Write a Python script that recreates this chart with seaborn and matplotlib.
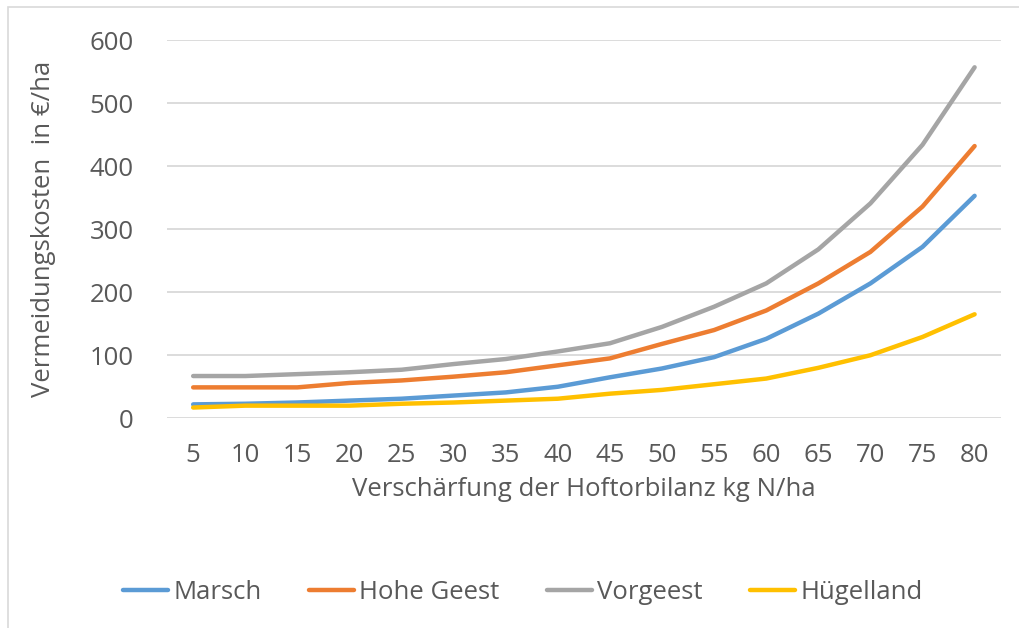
import pandas as pd
import matplotlib.pyplot as plt
import seaborn as sns
from matplotlib.patches import Rectangle

sns.set_theme(style="white")
plt.rcParams["font.family"] = ["Open Sans", "DejaVu Sans"]

# ---------------------------------------------------------
# DATA
# ---------------------------------------------------------

verschaerfung = [5, 10, 15, 20, 25, 30, 35, 40, 45, 50, 55, 60, 65, 70, 75, 80]

marsch = [22, 23, 25, 28, 31, 36, 41, 50, 65, 79, 97, 126, 166, 214, 272, 353]
hohe_geest = [49, 49, 49, 56, 60, 66, 73, 84, 95, 118, 140, 171, 214, 264, 336, 432]
vorgeest = [67, 67, 70, 73, 77, 86, 94, 106, 119, 145, 177, 214, 268, 341, 434, 557]
huegelland = [17, 20, 20, 20, 23, 25, 28, 31, 39, 45, 54, 63, 80, 100, 129, 165]

regionen = ["Marsch", "Hohe Geest", "Vorgeest", "Hügelland"]
farben = ["#5B9BD5", "#ED7D31", "#A5A5A5", "#FFC000"]

df = pd.DataFrame({
    "x": verschaerfung * 4,
    "kosten": marsch + hohe_geest + vorgeest + huegelland,
    "region": sum([[r] * len(verschaerfung) for r in regionen], []),
})

# ---------------------------------------------------------
# PLOT
# ---------------------------------------------------------

text_col = "#595959"
fs = 18.5

fig = plt.figure(figsize=(10.19, 6.28), dpi=100)
ax = fig.add_axes([0.164, 0.334, 0.818, 0.602])

sns.lineplot(data=df, x="x", y="kosten", hue="region", hue_order=regionen,
             palette=farben, linewidth=3.2, ax=ax, legend=False)

ax.set_xlim(2.5, 82.5)
ax.set_ylim(0, 600)
ax.set_xticks(verschaerfung)
ax.set_yticks(range(0, 601, 100))
ax.yaxis.grid(True, color="#D9D9D9", linewidth=1.3)
ax.set_axisbelow(True)
for s in ax.spines.values():
    s.set_visible(False)
ax.tick_params(axis="both", length=0, labelsize=fs, labelcolor=text_col, pad=18)
ax.tick_params(axis="y", pad=24)

ax.set_xlabel("Verschärfung der Hoftorbilanz kg N/ha", fontsize=fs,
              color=text_col, labelpad=6)
ax.set_ylabel("Vermeidungskosten  in €/ha", fontsize=fs, color=text_col,
              labelpad=24)

handles = [plt.Line2D([], [], color=c, linewidth=3.2) for c in farben]
fig.legend(handles, regionen, loc="center", bbox_to_anchor=(0.513, 0.057),
           ncol=4, frameon=False, fontsize=fs, handlelength=1.75,
           handletextpad=0.2, columnspacing=1.85, labelcolor=text_col)

# light chart border
fig.patches.append(Rectangle((0.008, -0.05), 1.2, 1.039, transform=fig.transFigure,
                             fill=False, edgecolor="#D9D9D9", linewidth=1.2))

fig.savefig("out.png", dpi=100)
